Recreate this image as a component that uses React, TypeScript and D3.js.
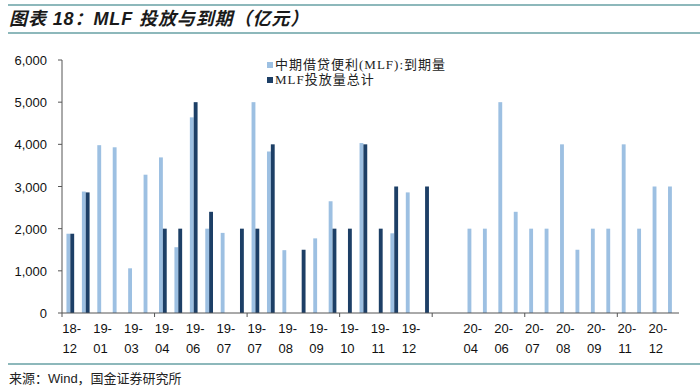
import React from "react";
import * as d3 from "d3";

const categories = [
  "18-12", "18-12b", "19-01", "19-01b", "19-03", "19-03b", "19-04", "19-04b",
  "19-06", "19-06b", "19-07", "19-07b", "19-07c", "19-07d", "19-08", "19-08b",
  "19-09", "19-09b", "19-10", "19-10b", "19-11", "19-11b", "19-12", "19-12b",
  "blank", "blank-b", "20-04", "20-04b", "20-06", "20-06b", "20-07", "20-07b",
  "20-08", "20-08b", "20-09", "20-09b", "20-11", "20-11b", "20-12", "20-12b",
];

const tickLabels = [
  "18-12", "19-01", "19-03", "19-04", "19-06", "19-07", "19-07", "19-08", "19-09", "19-10",
  "19-11", "19-12", "", "20-04", "20-06", "20-07", "20-08", "20-09", "20-11", "20-12",
];

const maturity = [
  1880, 2880, 3980, 3930, 1060, 3280, 3690, 1560, 4640, 2000,
  1900, 0, 5000, 3830, 1490, 0, 1770, 2650, 0, 4030,
  0, 1890, 2860, 0, 0, 0, 2000, 2000, 5000, 2400,
  2000, 2000, 4000, 1500, 2000, 2000, 4000, 2000, 3000, 3000,
];

const injection = [
  1880, 2860, 0, 0, 0, 0, 2000, 2000, 5000, 2400,
  0, 2000, 2000, 4000, 0, 1500, 0, 2000, 2000, 4000,
  2000, 3000, 0, 3000, 0, 0, 0, 0, 0, 0,
  0, 0, 0, 0, 0, 0, 0, 0, 0, 0,
];

const seriesNames = ["中期借贷便利(MLF):到期量", "MLF投放量总计"];
const seriesColors = ["#9dc0e2", "#1d3f66"];
const yTicks = [0, 1000, 2000, 3000, 4000, 5000, 6000];

export default function App() {
  const W = 700, H = 388;
  const left = 62, right = 679, top = 60, bottom = 313;
  const x = d3.scaleBand<string>().domain(categories).range([left, right]).paddingInner(0).paddingOuter(0);
  const y = d3.scaleLinear().domain([0, 6000]).range([bottom, top]);
  const groupW = x.bandwidth() * 0.5;
  const inner = d3.scaleBand<number>().domain([0, 1]).range([0, groupW]);
  const seriesData = [maturity, injection];
  const fmt = d3.format(",");
  const numFont = "'Liberation Sans', Arial, sans-serif";
  const cjkFont = "'Liberation Serif', 'Noto Sans CJK SC', serif";

  return (
    <svg width={W} height={H} style={{ position: "fixed", left: 0, top: 0, background: "#fff" }}>
      <rect x={0} y={0} width={W} height={H} fill="#fff" />
      {/* title */}
      <line x1={8} x2={700} y1={5} y2={5} stroke="#8db8bb" strokeWidth={2} />
      <text x={9} y={25} fontSize={18} fontWeight="bold" fontStyle="italic"
        fontFamily="'Liberation Sans', 'Noto Sans CJK SC', sans-serif" fill="#1a1a1a" letterSpacing={0.9}>
        图表 18：MLF 投放与到期（亿元）
      </text>
      <line x1={8} x2={700} y1={33} y2={33} stroke="#8db8bb" strokeWidth={2} />

      {/* y axis */}
      <line x1={left} x2={left} y1={top} y2={bottom} stroke="#555" strokeWidth={1} />
      {yTicks.map((t) => (
        <g key={t}>
          <line x1={left - 4} x2={left} y1={y(t)} y2={y(t)} stroke="#555" />
          <text x={47} y={y(t) + 5} textAnchor="end" fontSize={13} fontFamily={numFont} fill="#111">
            {fmt(t)}
          </text>
        </g>
      ))}

      {/* bars */}
      {seriesData.map((vals, s) => (
        <g key={s}>
          {vals.map((v, i) =>
            v > 0 ? (
              <rect key={i}
                x={(x(categories[i]) as number) + (x.bandwidth() - groupW) / 2 + 0.6 + (inner(s) as number)}
                y={y(v)} width={inner.bandwidth()} height={bottom - y(v)} fill={seriesColors[s]} />
            ) : null
          )}
        </g>
      ))}

      {/* x axis */}
      <line x1={left} x2={right} y1={bottom} y2={bottom} stroke="#555" strokeWidth={1} />
      {categories.map((c, i) =>
        i % 6 === 0 ? (
          <line key={c} x1={x(c) as number} x2={x(c) as number} y1={bottom} y2={bottom + 4} stroke="#555" />
        ) : null
      )}
      {tickLabels.map((lab, k) => {
        const c = categories[k * 2];
        const cx = (x(c) as number) + x.bandwidth() / 2;
        if (!lab) return null;
        const [a, b] = lab.split("-");
        return (
          <text key={k} x={cx} textAnchor="middle" fontSize={13} fontFamily={numFont} fill="#111">
            <tspan x={cx + 2} y={333}>{a + "-"}</tspan>
            <tspan x={cx} y={353}>{b}</tspan>
          </text>
        );
      })}

      {/* legend */}
      {seriesNames.map((n, s) => (
        <g key={n}>
          <rect x={267} y={62 + s * 15} width={6} height={6} fill={seriesColors[s]} />
          <text x={275} y={69 + s * 15} fontSize={13} fontFamily={cjkFont} fill="#222" letterSpacing={1}>
            {n}
          </text>
        </g>
      ))}

      {/* footer */}
      <line x1={8} x2={700} y1={364} y2={364} stroke="#8db8bb" strokeWidth={2} />
      <text x={9} y={383} fontSize={13} fontFamily="'Liberation Sans', 'Noto Sans CJK SC', sans-serif" fill="#222">
        来源：Wind，国金证券研究所
      </text>
    </svg>
  );
}
